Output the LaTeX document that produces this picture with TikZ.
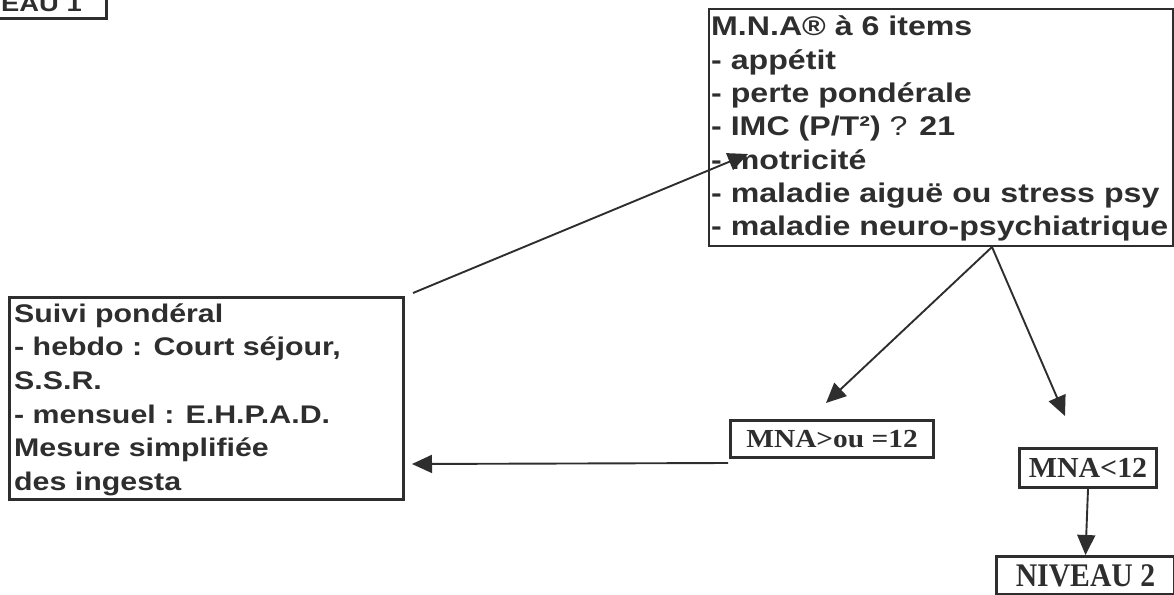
\documentclass[tikz,border=0pt]{standalone}
\usepackage{fontspec}
\usetikzlibrary{arrows.meta}
\newfontfamily\arw{Liberation Sans}[FakeStretch=1.19]
\newfontfamily\tmb{Liberation Serif}
\definecolor{ink}{HTML}{2E2E2E}
\tikzset{
  box/.style={draw=ink, line width=#1, inner sep=0pt, fill=none},
  box/.default=3pt,
  txt/.style={inner sep=0pt, text=ink, font=\arw\bfseries\fontsize{27}{33.3}\selectfont},
  conn/.style={draw=ink, line width=1.9pt, -{Triangle[length=20pt,width=18pt]}}
}
\begin{document}
\begin{tikzpicture}[x=1pt,y=-1pt]
\useasboundingbox (0,0) rectangle (1174,594);
\clip (0,0) rectangle (1174,594);
% NIVEAU 1 (cut off)
\node[box=2.7pt, minimum width=260pt, minimum height=60pt, anchor=south east] (niv1) at (108,20) {};
\node[txt, anchor=base east, font=\arw\bfseries\fontsize{23}{26}\selectfont] (niv1t) at (82,12) {NIVEAU 1};
% MNA 6 items
\node[box=2pt, minimum width=464pt, minimum height=237pt, anchor=north west] (mna) at (708,8) {};
\node[txt, anchor=base west] (mnat) at (711,36) {\vtop{\arw\bfseries\fontsize{27}{33.3}\selectfont
  \hbox{M.N.A® à 6 items}
  \hbox{- appétit}
  \hbox{- perte pondérale}
  \hbox{- IMC (P/T²) {\mdseries ?} 21}
  \hbox{- motricité}
  \hbox{- maladie aiguë ou stress psy}
  \hbox{- maladie neuro-psychiatrique}}};
% Suivi
\node[box=3pt, minimum width=394pt, minimum height=202pt, anchor=north west] (suivi) at (8,296) {};
\node[txt, anchor=base west] (suivit) at (14,322) {\vtop{\arw\bfseries\fontsize{25.5}{33.7}\selectfont
  \hbox{Suivi pondéral}
  \hbox{- hebdo : Court séjour,}
  \hbox{S.S.R.}
  \hbox{- mensuel : E.H.P.A.D.}
  \hbox{Mesure simplifiée}
  \hbox{des ingesta}}};
% Times boxes
\node[box=3pt, minimum width=203pt, minimum height=37pt, anchor=north west, text height=17pt, text depth=0pt] (mnage) at (729,419)
  {\textcolor{ink}{\scalebox{1.13}[1]{\tmb\bfseries\fontsize{26}{28}\selectfont MNA>ou =12}}};
\node[box=3pt, minimum width=137pt, minimum height=39pt, anchor=north west, text height=19pt, text depth=0pt] (mnalt) at (1018,447)
  {\textcolor{ink}{\scalebox{1.03}[1]{\tmb\bfseries\fontsize{29}{31}\selectfont MNA<12}}};
\node[box=3pt, minimum width=178pt, minimum height=38pt, anchor=north west, text height=22pt, text depth=0pt] (niv2) at (995,555)
  {\textcolor{ink}{\scalebox{0.9}[1]{\tmb\bfseries\fontsize{33}{36}\selectfont NIVEAU 2}}};
% connector points
\coordinate (s1) at (413,293);
\coordinate (t1) at (748,154);
\coordinate (apex) at (992,247);
\coordinate (t2) at (826,403);
\coordinate (t3) at (1065,416);
\coordinate (s4) at (728,463);
\coordinate (t4) at (412,464);
\draw[conn] (s1) -- (t1);
\draw[conn] (apex) -- (t2);
\draw[conn] (apex) -- (t3);
\draw[conn] (s4) -- (t4);
\draw[conn] (mnalt.south) -- (niv2.north);
\end{tikzpicture}
\end{document}
